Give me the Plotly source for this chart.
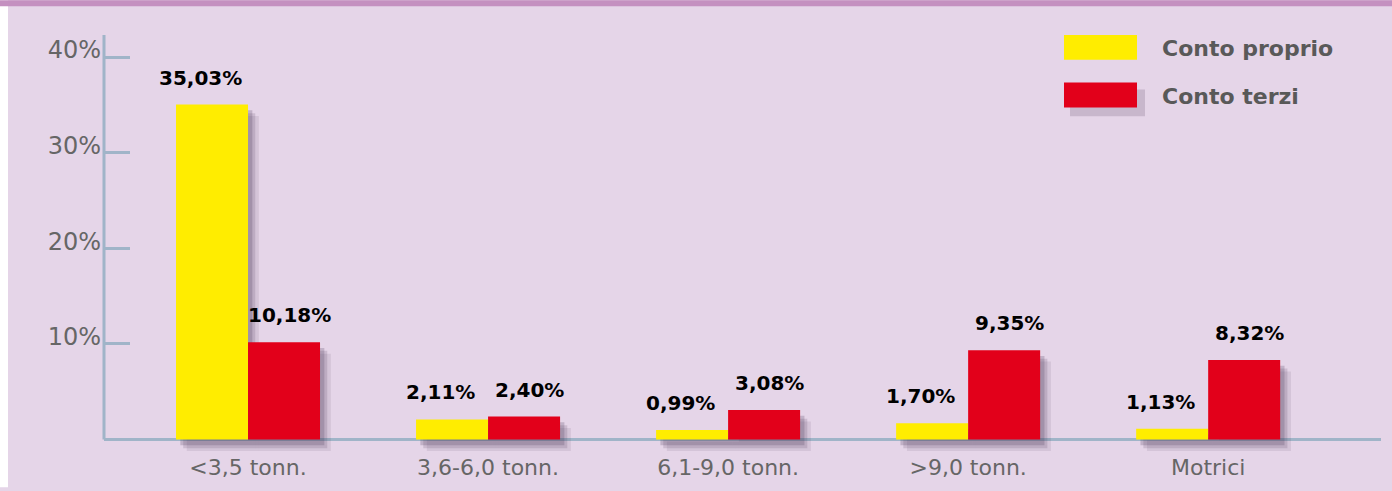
import plotly.graph_objects as go

categories = ["<3,5 tonn.", "3,6-6,0 tonn.", "6,1-9,0 tonn.", ">9,0 tonn.", "Motrici"]
conto_proprio = [35.03, 2.11, 0.99, 1.70, 1.13]
conto_terzi = [10.18, 2.40, 3.08, 9.35, 8.32]
series_names = ["Conto proprio", "Conto terzi"]
tick_vals = [10, 20, 30, 40]
tick_text = ["10%", "20%", "30%", "40%"]

W, H = 1392, 491
ML, MR, MT, MB = 104, 11, 35, 35.5
YMIN, YMAX = -1.3, 42.3
PW, PH = W - ML - MR, H - MT - MB

YELLOW = "#FFED00"
RED = "#E2001A"
AXIS = "#A0B4C8"
BG = "#E5D5E8"

def px_x(p):
    return (p - ML) / PW

def px_y(p):
    return (H - MB - p) / PH

fig = go.Figure()

# soft drop shadows
for dx, db, op in [(0.045, -1.2, 0.10), (0.03, -0.9, 0.16), (0.018, -0.6, 0.22)]:
    for vals, off in [(conto_proprio, -0.3), (conto_terzi, 0.0)]:
        fig.add_trace(go.Bar(
            x=categories, y=vals, base=db, offset=off + dx, width=0.3,
            marker=dict(color=f"rgba(70,50,80,{op})", line=dict(width=0)),
            showlegend=False, hoverinfo="skip"))

fig.add_trace(go.Bar(x=categories, y=conto_proprio, name=series_names[0], offset=-0.3, width=0.3,
                     marker=dict(color=YELLOW, line=dict(width=0)), showlegend=False))
fig.add_trace(go.Bar(x=categories, y=conto_terzi, name=series_names[1], offset=0.0, width=0.3,
                     marker=dict(color=RED, line=dict(width=0)), showlegend=False))

def fmt(v):
    return f"{v:.2f}".replace(".", ",") + "%"

annotations = []
for i, c in enumerate(categories):
    annotations.append(dict(x=i, y=conto_proprio[i], xref="x", yref="y", text=fmt(conto_proprio[i]),
                            xshift=-48, yshift=27, yanchor="middle", showarrow=False,
                            font=dict(family="DejaVu Sans", size=20, color="#000000", weight="bold")))
    annotations.append(dict(x=i, y=conto_terzi[i], xref="x", yref="y", text=fmt(conto_terzi[i]),
                            xshift=41, yshift=27, yanchor="middle", showarrow=False,
                            font=dict(family="DejaVu Sans", size=20, color="#000000", weight="bold")))

# legend text
for name, ypx in zip(series_names, [49, 97]):
    annotations.append(dict(x=px_x(1160), y=px_y(ypx), xref="paper", yref="paper", text=f"<b>{name}</b>",
                            xanchor="left", yanchor="middle", showarrow=False,
                            font=dict(family="DejaVu Sans", size=22, color="#595959")))

shapes = [
    # white left strip and purple top band
    dict(type="rect", xref="paper", yref="paper", x0=px_x(0), x1=px_x(8), y0=px_y(H), y1=px_y(0),
         fillcolor="#FFFFFF", line=dict(width=0), layer="below"),
    dict(type="rect", xref="paper", yref="paper", x0=px_x(0), x1=px_x(W), y0=px_y(6), y1=px_y(0),
         fillcolor="#C490C0", line=dict(width=0), layer="below"),
    # y axis line
    dict(type="line", xref="paper", yref="y", x0=0, x1=0, y0=0, y1=YMAX,
         line=dict(color=AXIS, width=3), layer="above"),
    # legend swatches
    dict(type="rect", xref="paper", yref="paper", x0=px_x(1070), x1=px_x(1145), y0=px_y(117), y1=px_y(90),
         fillcolor="rgba(70,50,80,0.18)", line=dict(width=0)),
    dict(type="rect", xref="paper", yref="paper", x0=px_x(1064), x1=px_x(1137), y0=px_y(60), y1=px_y(35),
         fillcolor=YELLOW, line=dict(width=0)),
    dict(type="rect", xref="paper", yref="paper", x0=px_x(1064), x1=px_x(1137), y0=px_y(108), y1=px_y(83),
         fillcolor=RED, line=dict(width=0)),
]

fig.update_layout(
    width=W, height=H,
    margin=dict(l=ML, r=MR, t=MT, b=MB, pad=0),
    paper_bgcolor=BG, plot_bgcolor=BG,
    barmode="overlay",
    showlegend=False,
    annotations=annotations,
    shapes=shapes,
    xaxis=dict(range=[-0.6, 4.72], showgrid=False, showline=False, zeroline=False, ticks="",
               tickfont=dict(family="DejaVu Sans", size=22, color="#666666"), ticklabelstandoff=0),
    yaxis=dict(range=[YMIN, YMAX], showgrid=False, showline=False,
               zeroline=True, zerolinecolor=AXIS, zerolinewidth=3,
               tickvals=tick_vals, ticktext=tick_text, ticks="inside", ticklen=26, tickwidth=3,
               tickcolor=AXIS, ticklabelshift=-7, ticklabelstandoff=2,
               tickfont=dict(family="DejaVu Sans", size=24, color="#666666")),
)

fig.write_html("out.html")
